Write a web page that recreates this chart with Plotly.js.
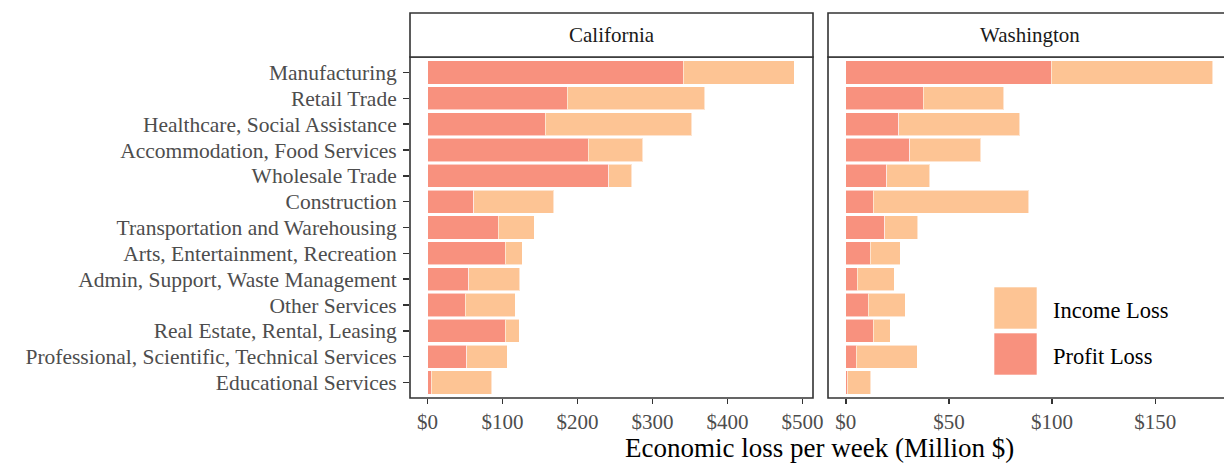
<!DOCTYPE html>
<html>
<head>
<meta charset="utf-8">
<script src="https://cdn.plot.ly/plotly-3.0.1.min.js"></script>
<style>html,body{margin:0;padding:0;overflow:hidden;background:#fff;}#chart{width:1224px;height:463px;}</style>
</head>
<body>
<div id="chart"></div>
<script>
const industries = [
  "Manufacturing",
  "Retail Trade",
  "Healthcare, Social Assistance",
  "Accommodation, Food Services",
  "Wholesale Trade",
  "Construction",
  "Transportation and Warehousing",
  "Arts, Entertainment, Recreation",
  "Admin, Support, Waste Management",
  "Other Services",
  "Real Estate, Rental, Leasing",
  "Professional, Scientific, Technical Services",
  "Educational Services"
];
const caProfit = [341.0, 186.3, 157.0, 214.3, 241.9, 61.3, 94.3, 103.6, 54.7, 50.3, 103.6, 52.5, 4.9];
const caIncome = [148.0, 183.0, 195.5, 72.4, 30.6, 106.7, 47.6, 22.7, 68.5, 66.6, 18.7, 53.4, 80.4];
const waProfit = [99.6, 37.5, 25.6, 30.9, 19.8, 13.3, 18.8, 11.9, 5.6, 10.9, 13.3, 5.1, 0.7];
const waIncome = [78.3, 39.0, 58.6, 34.4, 21.0, 75.3, 16.0, 14.4, 17.9, 17.9, 8.3, 29.5, 11.5];
const panels = ["California", "Washington"];
const seriesNames = ["Income Loss", "Profit Loss"];

const profitColor = "#F8917E";
const incomeColor = "#FDC494";
const FONT = "Liberation Serif, Times New Roman, serif";
const W = 1224, H = 463;
const px = v => v / W;
const py = v => 1 - v / H;

function bar(vals, color, name, xa) {
  return {
    type: "bar", orientation: "h", y: industries, x: vals, name: name,
    xaxis: xa, yaxis: "y", width: 0.9, showlegend: false, hoverinfo: "x+y",
    marker: {color: color, line: {color: "rgba(255,255,255,0.55)", width: 1}}
  };
}

const data = [
  bar(caProfit, profitColor, seriesNames[1], "x"),
  bar(caIncome, incomeColor, seriesNames[0], "x"),
  bar(waProfit, profitColor, seriesNames[1], "x2"),
  bar(waIncome, incomeColor, seriesNames[0], "x2")
];

const xTickFont = {family: FONT, size: 21, color: "#4D4D4D"};
const yTickFont = {family: FONT, size: 21.5, color: "#4D4D4D"};
const border = {color: "#333333", width: 1.6};

const layout = {
  width: W, height: H,
  margin: {l: 0, r: 0, t: 0, b: 0},
  paper_bgcolor: "#fff", plot_bgcolor: "#fff",
  barmode: "stack",
  font: {family: FONT},
  xaxis: {
    domain: [px(410), px(813)], anchor: "y", range: [-23.5, 514],
    tickvals: [0, 100, 200, 300, 400, 500], ticktext: ["$0", "$100", "$200", "$300", "$400", "$500"],
    ticks: "outside", ticklen: 5, tickwidth: 1.5, tickcolor: "#333",
    showgrid: false, zeroline: false, showline: false, tickfont: xTickFont
  },
  xaxis2: {
    domain: [px(828), 1], anchor: "y", range: [-8.6, 183.3],
    tickvals: [0, 50, 100, 150], ticktext: ["$0", "$50", "$100", "$150"],
    ticks: "outside", ticklen: 5, tickwidth: 1.5, tickcolor: "#333",
    showgrid: false, zeroline: false, showline: false, tickfont: xTickFont
  },
  yaxis: {
    domain: [py(398), py(57)], anchor: "x", type: "category",
    categoryorder: "array", categoryarray: industries.slice().reverse(),
    tickmode: "array", tickvals: industries, ticktext: industries,
    range: [-0.6, 12.6], ticks: "outside", ticklen: 6, tickwidth: 1.5, tickcolor: "#333", ticklabelstandoff: 2,
    showgrid: false, zeroline: false, showline: false, tickfont: yTickFont
  },
  shapes: [
    {type: "rect", xref: "paper", yref: "paper", x0: px(410), x1: px(813), y0: py(398), y1: py(57), line: border, fillcolor: "rgba(0,0,0,0)"},
    {type: "rect", xref: "paper", yref: "paper", x0: px(828), x1: px(1240), y0: py(398), y1: py(57), line: border, fillcolor: "rgba(0,0,0,0)"},
    {type: "rect", xref: "paper", yref: "paper", x0: px(410), x1: px(813), y0: py(57), y1: py(13), line: border, fillcolor: "#fff"},
    {type: "rect", xref: "paper", yref: "paper", x0: px(828), x1: px(1240), y0: py(57), y1: py(13), line: border, fillcolor: "#fff"},
    {type: "rect", xref: "paper", yref: "paper", x0: px(994), x1: px(1037), y0: py(329), y1: py(287), line: {color: "rgba(255,255,255,0.6)", width: 1}, fillcolor: incomeColor},
    {type: "rect", xref: "paper", yref: "paper", x0: px(994), x1: px(1037), y0: py(375), y1: py(333), line: {color: "rgba(255,255,255,0.6)", width: 1}, fillcolor: profitColor}
  ],
  annotations: [
    {xref: "paper", yref: "paper", x: px(611.5), y: py(35), text: panels[0], showarrow: false, xanchor: "center", yanchor: "middle", font: {family: FONT, size: 21, color: "#1A1A1A"}},
    {xref: "paper", yref: "paper", x: px(1029.5), y: py(35), text: panels[1], showarrow: false, xanchor: "center", yanchor: "middle", font: {family: FONT, size: 21, color: "#1A1A1A"}},
    {xref: "paper", yref: "paper", x: px(820), y: py(448), text: "Economic loss per week (Million $)", showarrow: false, xanchor: "center", yanchor: "middle", font: {family: FONT, size: 27, color: "#000"}},
    {xref: "paper", yref: "paper", x: px(1051), y: py(310), text: seriesNames[0], showarrow: false, xanchor: "left", yanchor: "middle", font: {family: FONT, size: 22.5, color: "#000"}},
    {xref: "paper", yref: "paper", x: px(1051), y: py(356), text: seriesNames[1], showarrow: false, xanchor: "left", yanchor: "middle", font: {family: FONT, size: 22.5, color: "#000"}}
  ]
};

Plotly.newPlot("chart", data, layout, {staticPlot: true, displayModeBar: false});
</script>
</body>
</html>
